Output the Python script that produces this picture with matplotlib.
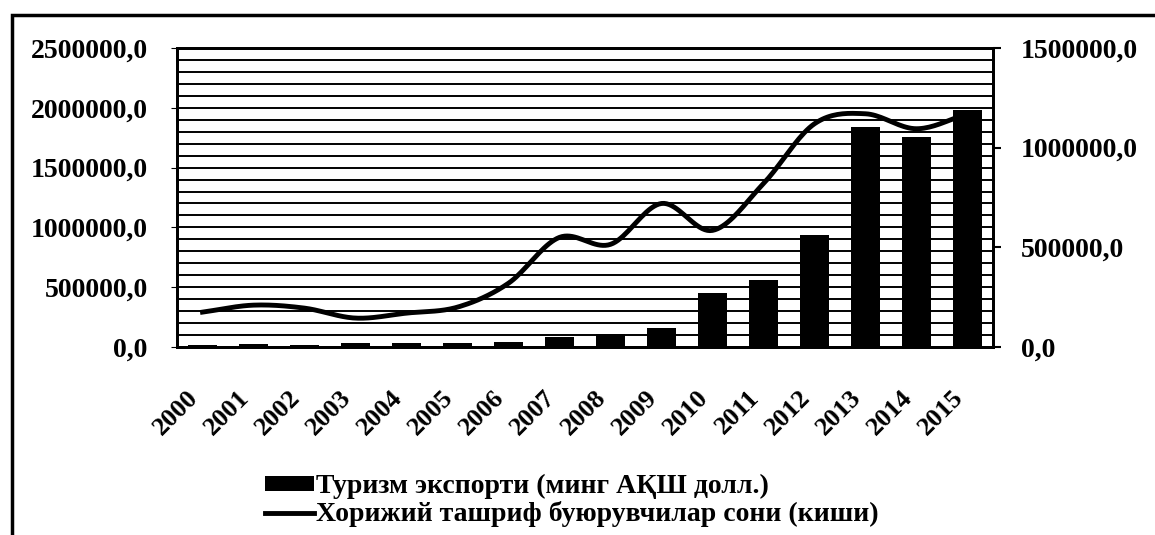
import numpy as np
import matplotlib
matplotlib.use('Agg')
from matplotlib import pyplot as plt
from matplotlib.ticker import MultipleLocator, FuncFormatter
from matplotlib.patches import Rectangle

plt.rcParams['font.family'] = ['Liberation Serif', 'DejaVu Serif']
plt.rcParams['font.weight'] = 'bold'

years = [str(y) for y in range(2000, 2016)]
# tourism export, thousand USD (left axis)
export = [20000, 25000, 20000, 30000, 35000, 30000, 45000, 85000,
          110000, 160000, 450000, 560000, 935000, 1840000, 1755000, 1980000]
# foreign visitors, persons (right axis)
visitors = [175000, 210000, 195000, 145000, 170000, 200000, 320000, 550000,
            515000, 720000, 585000, 820000, 1120000, 1170000, 1095000, 1170000]
label_bar = 'Туризм экспорти (минг АҚШ долл.)'
label_line = 'Хорижий ташриф буюрувчилар сони (киши)'


def smooth(x, y, n=20):
    # catmull-rom curve through the points, like excel's smoothed line
    x = np.asarray(x, float)
    y = np.asarray(y, float)
    px = np.concatenate([[2 * x[0] - x[1]], x, [2 * x[-1] - x[-2]]])
    py = np.concatenate([[2 * y[0] - y[1]], y, [2 * y[-1] - y[-2]]])
    t = np.linspace(0, 1, n, endpoint=False)
    xs, ys = [], []
    for i in range(1, len(px) - 2):
        for p, out in ((px, xs), (py, ys)):
            p0, p1, p2, p3 = p[i - 1], p[i], p[i + 1], p[i + 2]
            out.extend(0.5 * (2 * p1 + (-p0 + p2) * t
                              + (2 * p0 - 5 * p1 + 4 * p2 - p3) * t ** 2
                              + (-p0 + 3 * p1 - 3 * p2 + p3) * t ** 3))
    xs.append(x[-1])
    ys.append(y[-1])
    return np.array(xs), np.array(ys)


fmt = FuncFormatter(lambda v, pos: f'{v:.1f}'.replace('.', ','))

fig = plt.figure(figsize=(11.55, 5.35), dpi=100)
ax = fig.add_axes([177 / 1155, 1 - 347 / 535, 816 / 1155, 299 / 535])
ax2 = ax.twinx()

xpos = np.arange(len(years))
bars = ax.bar(xpos, export, width=0.55, color='black', label=label_bar, zorder=3)
sx, sy = smooth(xpos, visitors)
line, = ax2.plot(sx, sy, color='black', lw=3.5, label=label_line)

ax.set_xlim(-0.5, len(years) - 0.5)
ax.set_ylim(0, 2500000)
ax2.set_ylim(0, 1500000)
ax.yaxis.set_major_locator(MultipleLocator(500000))
ax.yaxis.set_minor_locator(MultipleLocator(100000))
ax2.yaxis.set_major_locator(MultipleLocator(500000))
ax.yaxis.set_major_formatter(fmt)
ax2.yaxis.set_major_formatter(fmt)

# scanned grey fill shows up as dense horizontal lines
ax.set_axisbelow(True)
ax.grid(which='both', axis='y', color='black', lw=1.4)

ax.set_xticks(xpos)
ax.set_xticklabels(years, rotation=45, ha='right', va='top', fontsize=19)
ax.tick_params(axis='x', length=0, pad=28)
ax.tick_params(axis='y', which='major', labelsize=20, length=4, pad=17)
ax.tick_params(axis='y', which='minor', length=0)
ax2.tick_params(axis='y', labelsize=20, length=6, width=1.5, pad=14)

for a in (ax, ax2):
    for s in a.spines.values():
        s.set_linewidth(2)
        s.set_color('black')

fig.legend(handles=[bars, line], labels=[label_bar, label_line],
           loc='upper left', bbox_to_anchor=(265 / 1155, 1 - 474 / 535),
           frameon=False, fontsize=20, handlelength=1.75, handleheight=0.45,
           handletextpad=0.1, labelspacing=0.08, borderpad=0, borderaxespad=0)

fig.patches.append(Rectangle((12 / 1155, -0.1), 1.2, 1.1 - 15 / 535,
                             transform=fig.transFigure, fill=False,
                             lw=2.5, edgecolor='black'))

fig.savefig('out.png', dpi=100)
